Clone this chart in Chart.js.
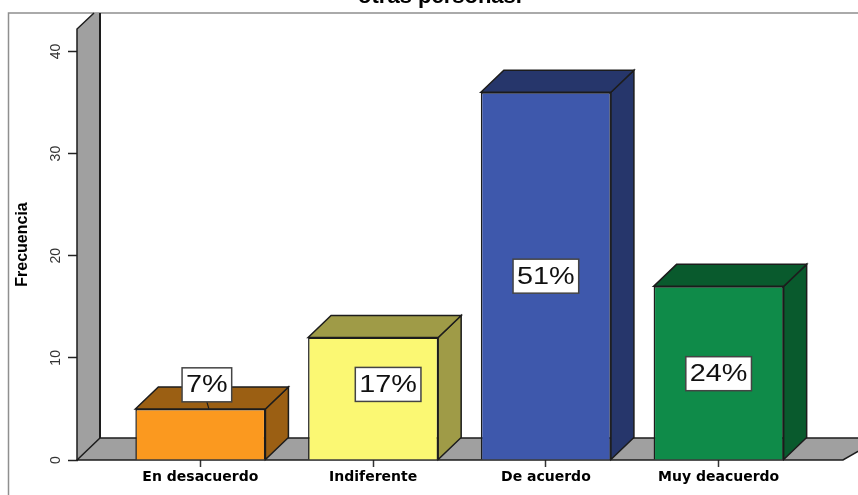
<!DOCTYPE html>
<html><head><meta charset="utf-8">
<script src="https://cdn.jsdelivr.net/npm/chart.js@4"></script>
<style>html,body{margin:0;padding:0;background:#fff;overflow:hidden}canvas{display:block}</style>
</head><body><canvas id="c" width="858" height="495"></canvas>
<script>
const categories = ['En desacuerdo','Indiferente','De acuerdo','Muy deacuerdo'];
const frequency = [5,12,36,17];
const percentLabels = ['7%','17%','51%','24%'];
const labelAnchorValues = [7.36,7.4,18,8.45];
const labelShiftX = [6.5,15,0,0];
const labelLeader = [true,false,false,false];
const frontColors = ['#FB991F','#FBF873','#3E58AC','#0F8B49'];
const sideColors = ['#9B5F13','#9F9B47','#26366B','#095A2D'];
const yTicks = [0,10,20,30,40];
const titleText = 'otras personas.';
const axisTitle = 'Frecuencia';

const DX = 23, DY = 22;
const INK = '#1c1c1c';

function poly(ctx, pts, fill, stroke, lw){
  ctx.beginPath();
  pts.forEach((p,i)=> i?ctx.lineTo(p[0],p[1]):ctx.moveTo(p[0],p[1]));
  ctx.closePath();
  if(fill){ctx.fillStyle=fill;ctx.fill();}
  if(stroke){ctx.strokeStyle=stroke;ctx.lineWidth=lw||1.5;ctx.lineJoin='miter';ctx.stroke();}
}

const depthPlugin = {
  id:'depth',
  beforeDatasetsDraw(chart){
    const ctx = chart.ctx, y = chart.scales.y;
    const x0 = y.right - 1, base = y.getPixelForValue(0), top = chart.chartArea.top;
    const frameTop = 13, frameLeft = 8.5;
    ctx.save();
    ctx.strokeStyle='#8f8f8f';ctx.lineWidth=1.5;
    ctx.beginPath();ctx.moveTo(frameLeft,chart.height);ctx.lineTo(frameLeft,frameTop);ctx.lineTo(chart.width,frameTop);ctx.stroke();
    poly(ctx,[[x0,base],[x0,top],[x0+17,frameTop],[x0+DX,frameTop],[x0+DX,base-DY]],'#A0A0A0',null);
    ctx.strokeStyle=INK;ctx.lineWidth=1.5;
    ctx.beginPath();ctx.moveTo(x0,base);ctx.lineTo(x0,top);ctx.lineTo(x0+17,frameTop);ctx.stroke();
    ctx.beginPath();ctx.lineWidth=2;ctx.moveTo(x0+DX,frameTop);ctx.lineTo(x0+DX,base-DY);ctx.stroke();
    poly(ctx,[[x0,base],[x0+DX,base-DY],[chart.width+DX,base-DY],[chart.width-15,base]],'#A0A0A0',INK,1.5);
    chart.getDatasetMeta(0).data.forEach((bar,i)=>{
      const l=bar.x-bar.width/2, r=bar.x+bar.width/2, t=bar.y, b=bar.base;
      poly(ctx,[[r,b],[r,t],[r+DX,t-DY],[r+DX,b-DY]],sideColors[i],INK,1.5);
      poly(ctx,[[l,t],[l+DX,t-DY],[r+DX,t-DY],[r,t]],sideColors[i],INK,1.5);
    });
    ctx.restore();
  },
  afterDatasetsDraw(chart){
    const ctx = chart.ctx, y = chart.scales.y;
    const stretch = 1.2;
    ctx.save();
    ctx.font='24px "Liberation Sans", Arial, sans-serif';
    ctx.textAlign='center';ctx.textBaseline='middle';
    chart.getDatasetMeta(0).data.forEach((bar,i)=>{
      const cx=bar.x+labelShiftX[i], cy=y.getPixelForValue(labelAnchorValues[i]);
      const w=ctx.measureText(percentLabels[i]).width*stretch+8, h=34;
      if(labelLeader[i]){
        ctx.strokeStyle=INK;ctx.lineWidth=1.2;
        ctx.beginPath();ctx.moveTo(cx,cy+h/2);ctx.lineTo(cx+2,bar.y);ctx.stroke();
      }
      ctx.fillStyle='#fff';ctx.fillRect(cx-w/2,cy-h/2,w,h);
      ctx.strokeStyle='#444';ctx.lineWidth=1.5;ctx.strokeRect(cx-w/2,cy-h/2,w,h);
      ctx.fillStyle='#111';
      ctx.save();ctx.translate(cx,cy+1);ctx.scale(stretch,1);
      ctx.fillText(percentLabels[i],0,0);
      ctx.restore();
    });
    ctx.restore();
  }
};

new Chart(document.getElementById('c'),{
  type:'bar',
  data:{labels:categories,datasets:[{
    data:frequency,
    backgroundColor:frontColors,
    borderColor:INK,
    borderWidth:1.5,
    barPercentage:0.753,
    categoryPercentage:1
  }]},
  plugins:[depthPlugin],
  options:{
    responsive:false,animation:false,
    layout:{padding:{left:22,right:0,top:0,bottom:0}},
    plugins:{
      legend:{display:false},tooltip:{enabled:false},
      title:{display:true,text:titleText,color:'#000',
        font:{family:'"Liberation Sans", Arial, sans-serif',size:22,weight:'bold',lineHeight:1.2},
        padding:{top:-16.5,bottom:19.1}}
    },
    scales:{
      x:{
        offset:true,
        grid:{drawOnChartArea:false,drawTicks:true,tickLength:7,tickColor:'#333',tickWidth:1.5,offset:false},
        border:{display:false},
        afterFit(s){s.height=35;},
        ticks:{color:'#000',padding:2,maxRotation:0,autoSkip:false,
          font:{family:'"DejaVu Sans", sans-serif',size:14,weight:'bold'}}
      },
      y:{
        position:'left',weight:0,
        min:0,max:42.2,
        afterBuildTicks(s){s.ticks=yTicks.map(v=>({value:v}));},
        afterFit(s){s.width=56;},
        grid:{drawOnChartArea:false,drawTicks:true,tickLength:10,tickColor:'#222',tickWidth:1.5},
        border:{display:false},
        ticks:{color:'#333',padding:4,minRotation:90,maxRotation:90,crossAlign:'center',
          font:{family:'"Liberation Sans", sans-serif',size:14}},
        title:{display:true,text:axisTitle,color:'#000',padding:{top:-9,bottom:0},
          font:{family:'"Liberation Sans", sans-serif',size:16,weight:'bold'}}
      },
      gapLeft:{
        axis:'y',position:'left',weight:-1,
        afterFit(s){s.width=36;},
        grid:{display:false},border:{display:false},ticks:{display:false}
      },
      gapRight:{
        axis:'y',position:'right',
        afterFit(s){s.width=53;},
        grid:{display:false},border:{display:false},ticks:{display:false}
      }
    }
  }
});
</script></body></html>
